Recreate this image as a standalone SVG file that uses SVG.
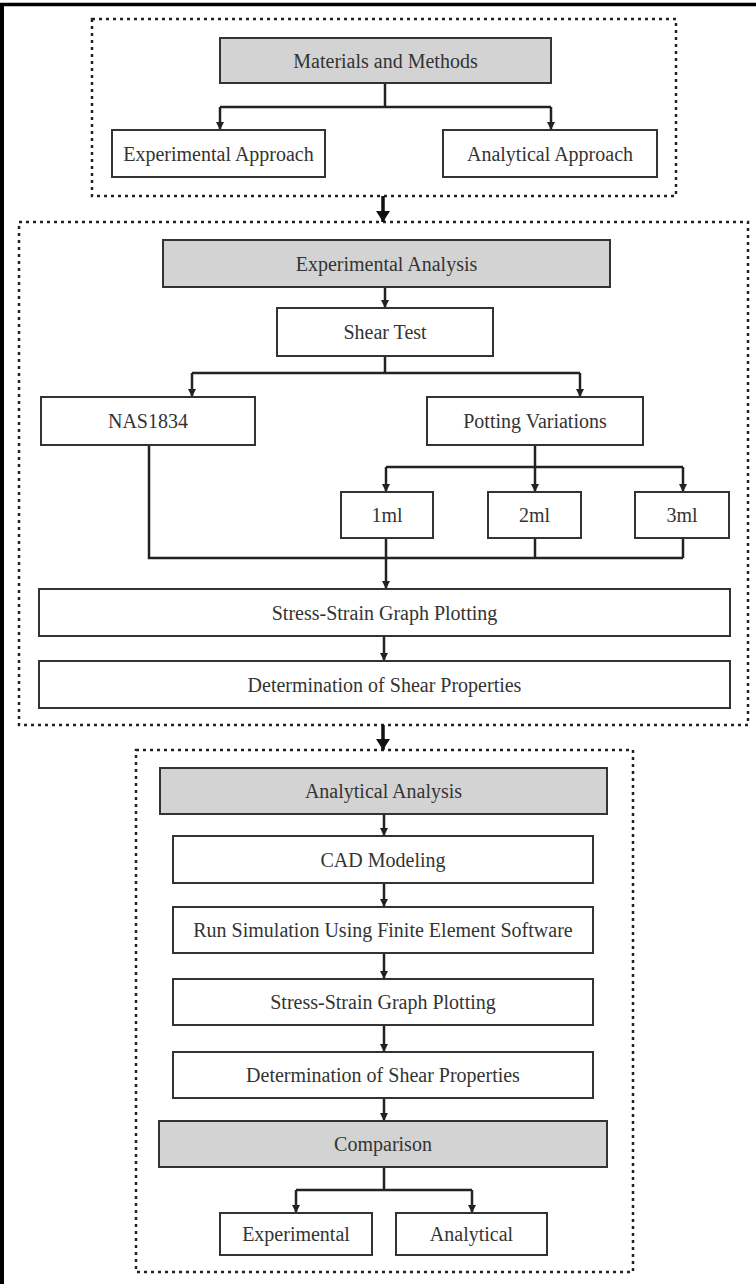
<svg xmlns="http://www.w3.org/2000/svg" width="756" height="1284" viewBox="0 0 756 1284">
<style>
  .frame { fill: none; stroke: #000; stroke-width: 4; }
  .group { fill: none; stroke: #222; stroke-width: 2.5; stroke-dasharray: 3 4; }
  .box { fill: #fff; stroke: #333; stroke-width: 2; }
  .hdr { fill: #d3d3d3; stroke: #333; stroke-width: 2; }
  text { font-family: 'Liberation Serif', 'DejaVu Serif', serif; font-size: 20px; fill: #333; text-anchor: middle; }
  .ln { fill: none; stroke: #222; stroke-width: 2.5; }
  .thick { fill: none; stroke: #111; stroke-width: 3.5; }
</style>
<defs>
  <marker id="ad" markerUnits="userSpaceOnUse" markerWidth="10" markerHeight="9" refX="5" refY="9" orient="0" viewBox="0 0 10 9">
    <path d="M1,1 L9,1 L5,9 Z" fill="#222"/>
  </marker>
  <marker id="adt" markerUnits="userSpaceOnUse" markerWidth="16" markerHeight="12" refX="8" refY="12" orient="0" viewBox="0 0 16 12">
    <path d="M1,1 L15,1 L8,12 Z" fill="#111"/>
  </marker>
</defs>

<g id="frame">
  <line x1="0" y1="4.5" x2="756" y2="4.5" stroke="#000" stroke-width="3.5"/>
  <line x1="2" y1="3" x2="2" y2="1284" stroke="#000" stroke-width="4"/>
</g>

<g id="groups">
  <rect id="group-materials" class="group" x="92" y="19" width="584" height="177"/>
  <rect id="group-experimental" class="group" x="19" y="222" width="729" height="503"/>
  <rect id="group-analytical" class="group" x="136" y="750" width="497" height="522"/>
</g>

<g id="connectors">
  <path class="ln" d="M385,83 V107 M220,107 H551"/>
  <path class="ln" d="M220,107 V130" marker-end="url(#ad)"/>
  <path class="ln" d="M551,107 V130" marker-end="url(#ad)"/>
  <path class="thick" d="M383,196 V222" marker-end="url(#adt)"/>
  <path class="ln" d="M385,287 V308" marker-end="url(#ad)"/>
  <path class="ln" d="M385,356 V373 M192,373 H580"/>
  <path class="ln" d="M192,373 V397" marker-end="url(#ad)"/>
  <path class="ln" d="M580,373 V397" marker-end="url(#ad)"/>
  <path class="ln" d="M535,445 V492" marker-end="url(#ad)"/>
  <path class="ln" d="M386,467 H683"/>
  <path class="ln" d="M386,467 V492" marker-end="url(#ad)"/>
  <path class="ln" d="M683,467 V492" marker-end="url(#ad)"/>
  <path class="ln" d="M149,445 V558 H683 M386,538 V558 M535,538 V558 M683,538 V558"/>
  <path class="ln" d="M386,558 V589" marker-end="url(#ad)"/>
  <path class="ln" d="M384,636 V661" marker-end="url(#ad)"/>
  <path class="thick" d="M383,725 V750" marker-end="url(#adt)"/>
  <path class="ln" d="M384,814 V836" marker-end="url(#ad)"/>
  <path class="ln" d="M384,883 V907" marker-end="url(#ad)"/>
  <path class="ln" d="M384,953 V979" marker-end="url(#ad)"/>
  <path class="ln" d="M384,1025 V1052" marker-end="url(#ad)"/>
  <path class="ln" d="M384,1098 V1121" marker-end="url(#ad)"/>
  <path class="ln" d="M384,1167 V1190 M296,1190 H472"/>
  <path class="ln" d="M296,1190 V1213" marker-end="url(#ad)"/>
  <path class="ln" d="M472,1190 V1213" marker-end="url(#ad)"/>
</g>

<g font-family="'Liberation Serif', 'DejaVu Serif', serif">
<g id="materials-methods"><rect class="hdr" x="220" y="38" width="331" height="45"/><text x="385.5" y="67.5">Materials and Methods</text></g>
<g id="experimental-approach"><rect class="box" x="112" y="130" width="213" height="47"/><text x="218.5" y="160.5">Experimental Approach</text></g>
<g id="analytical-approach"><rect class="box" x="443" y="130" width="214" height="47"/><text x="550" y="160.5">Analytical Approach</text></g>

<g id="experimental-analysis"><rect class="hdr" x="163" y="240" width="447" height="47"/><text x="386.5" y="270.5">Experimental Analysis</text></g>
<g id="shear-test"><rect class="box" x="277" y="308" width="216" height="48"/><text x="385" y="339">Shear Test</text></g>
<g id="nas1834"><rect class="box" x="41" y="397" width="214" height="48"/><text x="148" y="428">NAS1834</text></g>
<g id="potting-variations"><rect class="box" x="427" y="397" width="216" height="48"/><text x="535" y="428">Potting Variations</text></g>
<g id="ml1"><rect class="box" x="341" y="492" width="92" height="46"/><text x="387" y="522">1ml</text></g>
<g id="ml2"><rect class="box" x="488" y="492" width="93" height="46"/><text x="534.5" y="522">2ml</text></g>
<g id="ml3"><rect class="box" x="635" y="492" width="94" height="46"/><text x="682" y="522">3ml</text></g>
<g id="stress-strain-exp"><rect class="box" x="39" y="589" width="691" height="47"/><text x="384.5" y="619.5">Stress-Strain Graph Plotting</text></g>
<g id="shear-props-exp"><rect class="box" x="39" y="661" width="691" height="47"/><text x="384.5" y="691.5">Determination of Shear Properties</text></g>

<g id="analytical-analysis"><rect class="hdr" x="160" y="768" width="447" height="46"/><text x="383.5" y="798">Analytical Analysis</text></g>
<g id="cad-modeling"><rect class="box" x="173" y="836" width="420" height="47"/><text x="383" y="866.5">CAD Modeling</text></g>
<g id="run-simulation"><rect class="box" x="173" y="907" width="420" height="46"/><text x="383" y="937">Run Simulation Using Finite Element Software</text></g>
<g id="stress-strain-ana"><rect class="box" x="173" y="979" width="420" height="46"/><text x="383" y="1009">Stress-Strain Graph Plotting</text></g>
<g id="shear-props-ana"><rect class="box" x="173" y="1052" width="420" height="46"/><text x="383" y="1082">Determination of Shear Properties</text></g>
<g id="comparison"><rect class="hdr" x="159" y="1121" width="448" height="46"/><text x="383" y="1151">Comparison</text></g>
<g id="experimental"><rect class="box" x="220" y="1213" width="152" height="42"/><text x="296" y="1241">Experimental</text></g>
<g id="analytical"><rect class="box" x="396" y="1213" width="151" height="42"/><text x="471.5" y="1241">Analytical</text></g>
</g>
</svg>
